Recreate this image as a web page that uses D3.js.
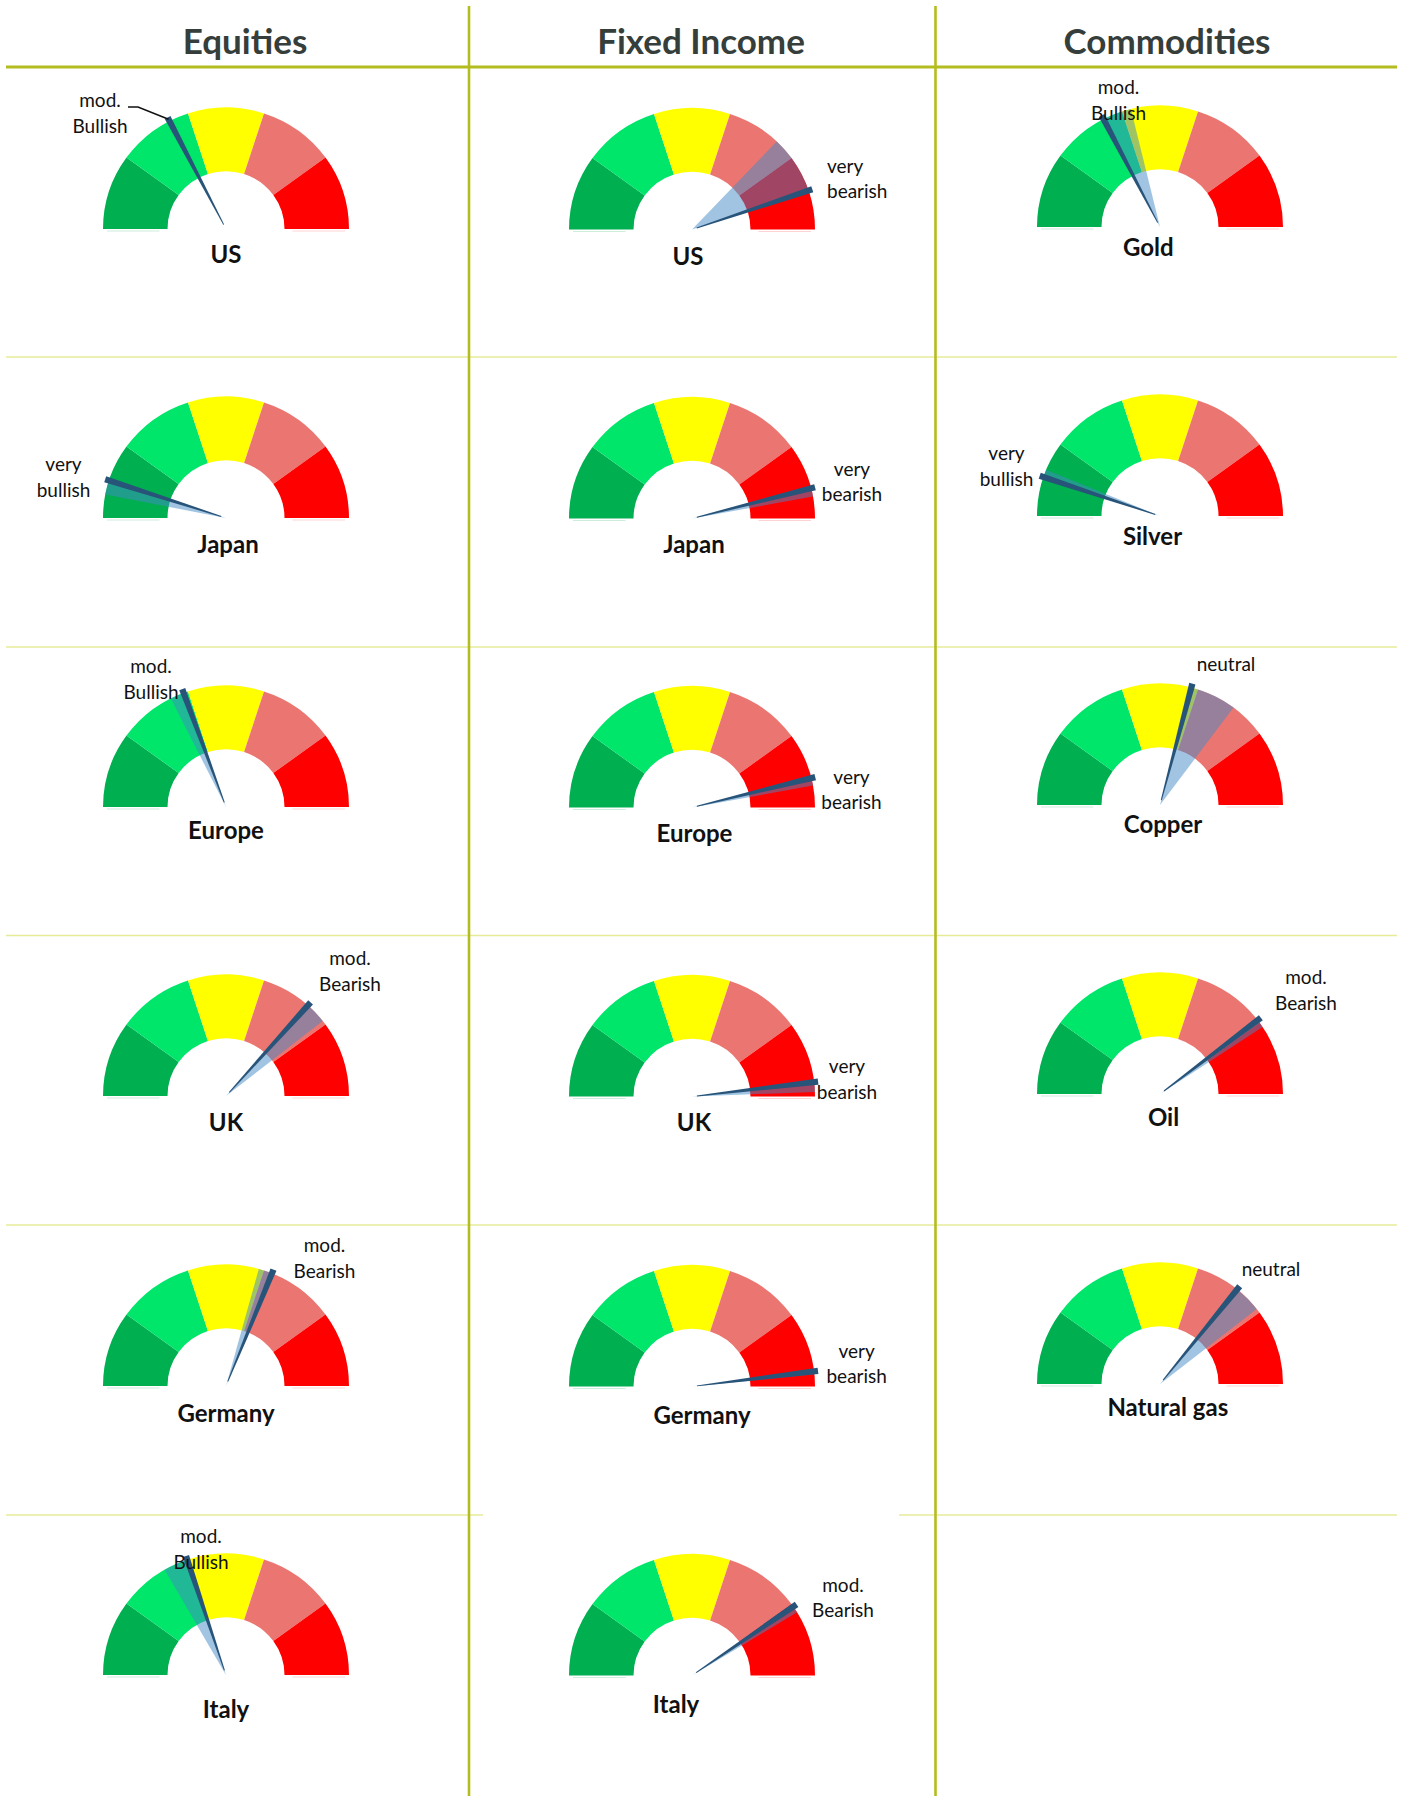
<!DOCTYPE html>
<html>
<head>
<meta charset="utf-8">
<script src="https://cdn.jsdelivr.net/npm/d3@7"></script>
<style>
	body { margin: 0; background: #ffffff; }
	svg { display: block; }
</style>
</head>
<body>
<div id="chart"></div>
<script>
// --- data -------------------------------------------------------------
// gauge scale: 0..5, one unit per zone (very bullish .. very bearish)
const columnTitles = ["Equities", "Fixed Income", "Commodities"]
const zoneColors = ["#00b050", "#00e66b", "#ffff00", "#eb7671", "#ff0000"]

const equityMarkets = ["US", "Japan", "Europe", "UK", "Germany", "Italy"]
const equityNow = [1.74, 0.50, 1.94, 3.66, 3.11, 1.99]
const equityPrev = [1.74, 0.31, 1.76, 3.94, 2.93, 1.67]
const equityCalls = [["mod.", "Bullish"], ["very", "bullish"], ["mod.", "Bullish"], ["mod.", "Bearish"], ["mod.", "Bearish"], ["mod.", "Bullish"]]

const bondMarkets = ["US", "Japan", "Europe", "UK", "Germany", "Italy"]
const bondNow = [4.48, 4.60, 4.61, 4.81, 4.80, 4.04]
const bondPrev = [3.71, 4.71, 4.71, 4.94, 4.84, 4.13]
const bondCalls = [["very", "bearish"], ["very", "bearish"], ["very", "bearish"], ["very", "bearish"], ["very", "bearish"], ["mod.", "Bearish"]]

const commodityMarkets = ["Gold", "Silver", "Copper", "Oil", "Natural gas"]
const commodityNow = [1.74, 0.52, 2.91, 3.96, 3.58]
const commodityPrev = [2.12, 0.62, 3.52, 4.07, 3.94]
const commodityCalls = [["mod.", "Bullish"], ["very", "bullish"], ["neutral"], ["mod.", "Bearish"], ["neutral"]]

// --- layout -----------------------------------------------------------
const width = 1405
const height = 1796
const colX = [226, 692, 1160]
const colShift = [0, 0.5, -2]
const rowY = [229, 518, 807, 1096, 1386, 1675]
const headerX = [245, 701, 1167]
const R = 123
const r_in = 58.5
const squash = 0.988

// label offsets from gauge centre: [dx, dy, anchor]
const equityLabelPos = [[-126, -122, "middle"], [-162.5, -47, "middle"], [-75, -134, "middle"], [124, -131, "middle"], [98.5, -134, "middle"], [-25, -132, "middle"]]
const bondLabelPos = [[135, -57, "start"], [160, -43, "middle"], [159.5, -23.6, "middle"], [155, -23.3, "middle"], [164.7, -29, "middle"], [151, -84, "middle"]]
const commodityLabelPos = [[-41.5, -133, "middle"], [-153.5, -56, "middle"], [66, -134, "middle"], [146, -110, "middle"], [111, -108, "middle"]]
// market name offsets: [dx, dy]
const equityNamePos = [[0, 33.5], [2, 35], [0, 31.5], [0, 34.5], [0, 36], [0, 42.5]]
const bondNamePos = [[-4, 35], [2, 34.6], [2.5, 34.3], [2, 34.4], [10, 37], [-16, 37.6]]
const commodityNamePos = [[-11.7, 29.3], [-7.5, 29.3], [3, 28.3], [3.5, 31.5], [7.8, 31.8]]

const columns = [
	{ names: equityMarkets, now: equityNow, prev: equityPrev, calls: equityCalls, labelPos: equityLabelPos, namePos: equityNamePos },
	{ names: bondMarkets, now: bondNow, prev: bondPrev, calls: bondCalls, labelPos: bondLabelPos, namePos: bondNamePos },
	{ names: commodityMarkets, now: commodityNow, prev: commodityPrev, calls: commodityCalls, labelPos: commodityLabelPos, namePos: commodityNamePos },
]

const svg = d3.select("#chart").append("svg")
	.attr("width", width)
	.attr("height", height)
	.style("font-family", "Lato, 'Open Sans', sans-serif")

svg.append("rect").attr("width", width).attr("height", height).attr("fill", "#ffffff")

// --- grid -------------------------------------------------------------
const grid = svg.append("g")
const rowLines = [357, 647, 935.5, 1225, 1515]
rowLines.forEach((y, i) => {
	if (i === rowLines.length - 1) {
		grid.append("line").attr("x1", 6).attr("x2", 483).attr("y1", y).attr("y2", y)
			.attr("stroke", "#e6eb98").attr("stroke-width", 1.6)
		grid.append("line").attr("x1", 899).attr("x2", 1397).attr("y1", y).attr("y2", y)
			.attr("stroke", "#e6eb98").attr("stroke-width", 1.6)
	} else {
		grid.append("line").attr("x1", 6).attr("x2", 1397).attr("y1", y).attr("y2", y)
			.attr("stroke", "#e6eb98").attr("stroke-width", 1.6)
	}
})
grid.append("line").attr("x1", 6).attr("x2", 1397).attr("y1", 67).attr("y2", 67)
	.attr("stroke", "#b4bd1f").attr("stroke-width", 3)
;[469, 935.5].forEach(x => {
	grid.append("line").attr("x1", x).attr("x2", x).attr("y1", 6).attr("y2", height)
		.attr("stroke", "#b4bd1f").attr("stroke-width", 2.6)
})

columnTitles.forEach((t, i) => {
	svg.append("text")
		.attr("x", headerX[i]).attr("y", 54)
		.attr("text-anchor", "middle")
		.attr("font-size", 35).attr("font-weight", "bold")
		.attr("fill", "#353e3a")
		.text(t)
})

// --- gauges -----------------------------------------------------------
const angle = d3.scaleLinear().domain([0, 5]).range([-Math.PI / 2, Math.PI / 2])
const zoneArc = d3.arc().innerRadius(r_in).outerRadius(R)
const moveArc = d3.arc().innerRadius(0).outerRadius(R)

function point(a, r) {
	return [Math.sin(a) * r, -Math.cos(a) * r]
}

columns.forEach((col, ci) => {
	col.names.forEach((name, ri) => {
		const cx = colX[ci]
		const cy = rowY[ri] + colShift[ci]
		const g = svg.append("g").attr("transform", `translate(${cx},${cy})`)
		const dial = g.append("g").attr("transform", `scale(1,${squash})`)

		// colour zones
		zoneColors.forEach((c, z) => {
			dial.append("path")
				.attr("d", zoneArc({ startAngle: angle(z), endAngle: angle(z + 1) }))
				.attr("fill", c)
		})
		// faint reflections under the base
		g.append("line").attr("x1", -R + 4).attr("x2", -r_in - 8).attr("y1", 2).attr("y2", 2)
			.attr("stroke", "#cdeedd").attr("stroke-width", 1.2)
		g.append("line").attr("x1", r_in + 8).attr("x2", R - 4).attr("y1", 2).attr("y2", 2)
			.attr("stroke", "#ffd3d3").attr("stroke-width", 1.2)

		// change since previous call
		const now = col.now[ri]
		const prev = col.prev[ri]
		if (Math.abs(now - prev) > 0.001) {
			dial.append("path")
				.attr("d", moveArc({ startAngle: angle(Math.min(now, prev)), endAngle: angle(Math.max(now, prev)) }))
				.attr("fill", "#418ac5")
				.attr("fill-opacity", 0.5)
		}

		// needle
		const a = angle(now)
		const base = point(a, 5)
		const tip = point(a, R + 4)
		const nx = Math.cos(a), ny = Math.sin(a)
		const pts = [
			[base[0] + nx * 0.5, base[1] + ny * 0.5],
			[tip[0] + nx * 3.2, tip[1] + ny * 3.2],
			[tip[0] - nx * 3.2, tip[1] - ny * 3.2],
			[base[0] - nx * 0.5, base[1] - ny * 0.5],
		]
		dial.append("path")
			.attr("d", d3.line()(pts) + "Z")
			.attr("fill", "#28547a")

		// leader line for the first equity call
		if (ci === 0 && ri === 0) {
			const lp = col.labelPos[ri]
			const end = point(a, R + 2)
			g.append("path")
				.attr("d", d3.line()([[lp[0] + 28, lp[1]], [lp[0] + 38, lp[1]], [end[0], end[1] * squash]]))
				.attr("fill", "none").attr("stroke", "#111").attr("stroke-width", 1.5)
		}

		// market name
		const np = col.namePos[ri]
		g.append("text")
			.attr("x", np[0]).attr("y", np[1])
			.attr("text-anchor", "middle")
			.attr("font-size", 24).attr("font-weight", "bold")
			.attr("fill", "#111111")
			.text(name)

		// call label
		const lp = col.labelPos[ri]
		const label = g.append("text")
			.attr("text-anchor", lp[2])
			.attr("font-size", 19)
			.attr("fill", "#111111")
		col.calls[ri].forEach((line, li) => {
			label.append("tspan")
				.attr("x", lp[0]).attr("y", lp[1] + li * 25.5)
				.text(line)
		})
	})
})
</script>
</body>
</html>
